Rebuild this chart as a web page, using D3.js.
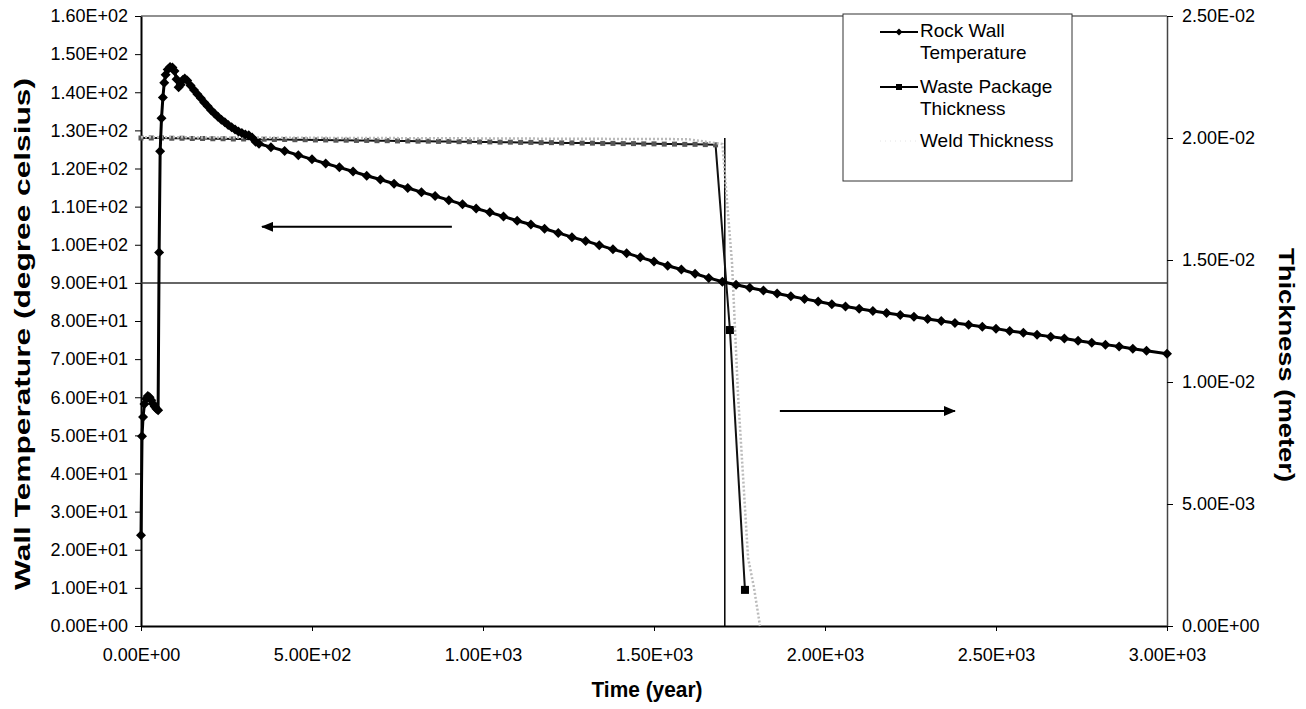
<!DOCTYPE html>
<html>
<head>
<meta charset="utf-8">
<script src="https://cdn.jsdelivr.net/npm/d3@7"></script>
<style>
    body { margin: 0; background: #fff; }
    svg { display: block; font-family: "Liberation Sans", Arial, sans-serif; }
    .tick text { font-size: 18px; fill: #000; }
    .axis-title { font-weight: bold; font-size: 22px; fill: #000; }
    .legend-text { font-size: 19px; fill: #000; }
</style>
</head>
<body>
<svg id="chart" width="1306" height="709"></svg>
<script>
// Rock Wall Temperature (degree celsius) vs time (year)
const wallYears = [0, 3, 6, 10, 15, 20, 25, 30, 35, 40, 45, 50, 53, 56, 60, 64, 68, 72, 78, 85, 92, 98,
    104, 110, 116, 122, 128, 135, 145, 155, 165, 175, 185, 195, 205, 215, 225, 235, 245, 255, 265,
    275, 285, 295, 305, 315, 325, 335, 345,
    380, 420, 460, 500, 540, 580, 620, 660, 700, 740, 780, 820, 860, 900, 940, 980, 1020, 1060,
    1100, 1140, 1180, 1220, 1260, 1300, 1340, 1380, 1420, 1460, 1500, 1540, 1580, 1620, 1660, 1700,
    1740, 1780, 1820, 1860, 1900, 1940, 1980, 2020, 2060, 2100, 2140, 2180, 2220, 2260, 2300, 2340,
    2380, 2420, 2460, 2500, 2540, 2580, 2620, 2660, 2700, 2740, 2780, 2820, 2860, 2900, 2940, 3000];
const wallTemp = [23.8, 49.8, 54.8, 58.2, 59.6, 60.3, 60.0, 59.2, 58.3, 57.6, 57.0, 56.6, 98.0, 124.5,
    133.2, 138.6, 142.5, 144.6, 146.0, 146.6, 146.5, 145.6,
    143.4, 141.3, 142.0, 143.2, 143.6, 143.1, 141.8, 140.6, 139.5, 138.4, 137.3, 136.3, 135.3, 134.4,
    133.6, 132.8, 132.1, 131.4, 130.8, 130.2, 129.7, 129.3, 128.9, 128.7, 128.1, 127.0, 126.5,
    125.6, 124.6, 123.5, 122.4, 121.3, 120.3, 119.2, 118.1, 117.1, 116.0, 114.9, 113.8, 112.8, 111.7,
    110.6, 109.5, 108.5, 107.4, 106.3, 105.3, 104.2, 103.1, 102.0, 101.0, 99.9, 98.8, 97.8, 96.7,
    95.6, 94.5, 93.5, 92.4, 91.3, 90.3,
    89.5, 88.7, 88.0, 87.2, 86.5, 85.8, 85.1, 84.4, 83.8, 83.2, 82.6, 82.1, 81.6, 81.1, 80.5, 80.0,
    79.5, 79.0, 78.5, 78.0, 77.4, 76.9, 76.4, 75.9, 75.4, 74.8, 74.3, 73.8, 73.3, 72.7, 72.2, 71.4];

// Waste Package Thickness (meter)
const packageYears = [0, 30, 60, 90, 120, 150, 180, 210, 240, 270, 300, 330, 360, 390, 420, 450, 480,
    510, 540, 570, 600, 630, 660, 690, 720, 750, 780, 810, 840, 870, 900, 930, 960, 990, 1020, 1050,
    1080, 1110, 1140, 1170, 1200, 1230, 1260, 1290, 1320, 1350, 1380, 1410, 1440, 1470, 1500, 1530,
    1560, 1590, 1620, 1650, 1680, 1722, 1766];
const packageThickness = [0.02000, 0.02000, 0.02000, 0.01999, 0.01999, 0.01998, 0.01998, 0.01997,
    0.01997, 0.01996, 0.01996, 0.01995, 0.01995, 0.01994, 0.01994, 0.01993, 0.01993, 0.01992, 0.01992,
    0.01991, 0.01991, 0.01990, 0.01990, 0.01989, 0.01989, 0.01988, 0.01988, 0.01987, 0.01987, 0.01986,
    0.01986, 0.01985, 0.01985, 0.01984, 0.01984, 0.01983, 0.01983, 0.01982, 0.01982, 0.01981, 0.01981,
    0.01980, 0.01980, 0.01979, 0.01979, 0.01978, 0.01978, 0.01977, 0.01977, 0.01976, 0.01976, 0.01975,
    0.01975, 0.01974, 0.01974, 0.01973, 0.01972, 0.01213, 0.00148];

// Weld Thickness (meter)
const weldYears = [0, 100, 200, 300, 400, 500, 600, 700, 800, 900, 1000, 1100, 1200, 1300, 1400,
    1500, 1600, 1700, 1728, 1746, 1775, 1792, 1810];
const weldThickness = [0.02003, 0.02003, 0.02002, 0.02002, 0.02001, 0.02001, 0.02000, 0.02000,
    0.01999, 0.01999, 0.01998, 0.01998, 0.01997, 0.01997, 0.01996, 0.01996, 0.01995, 0.01975,
    0.01490, 0.00940, 0.00280, 0.00160, 0.00000];

const yearTicks = [0, 500, 1000, 1500, 2000, 2500, 3000];
const tempTicks = [0, 10, 20, 30, 40, 50, 60, 70, 80, 90, 100, 110, 120, 130, 140, 150, 160];
const thicknessTicks = [0, 0.005, 0.01, 0.015, 0.02, 0.025];

// reference lines and arrows (data units)
const refTemp = 90;
const refYear = 1707;
const refThickness = 0.02;
const leftArrow = { from: 909, to: 354, temp: 104.7 };
const rightArrow = { from: 1868, to: 2380, thickness: 0.00881 };

const legendLabels = [['Rock Wall', 'Temperature'], ['Waste Package', 'Thickness'], ['Weld Thickness']];

const svg = d3.select('#chart');
const M = { left: 141, right: 1167, top: 16, bottom: 626 };

const x = d3.scaleLinear().domain([0, 3000]).range([M.left, M.right]);
const yT = d3.scaleLinear().domain([0, 160]).range([M.bottom, M.top]);
const yK = d3.scaleLinear().domain([0, 0.025]).range([M.bottom, M.top]);

function sci(v) {
    const [m, e] = v.toExponential(2).split('e');
    const n = Math.abs(+e);
    return m + 'E' + (+e < 0 ? '-' : '+') + (n < 10 ? '0' : '') + n;
}

// top border of plot area
svg.append('line')
    .attr('x1', M.left).attr('x2', M.right)
    .attr('y1', M.top).attr('y2', M.top)
    .attr('stroke', '#222').attr('stroke-width', 1.2);

// axes
const xAxis = svg.append('g')
    .attr('transform', `translate(0, ${M.bottom})`)
    .call(d3.axisBottom(x).tickValues(yearTicks).tickFormat(sci).tickSize(5).tickPadding(17).tickSizeOuter(0));
const leftAxis = svg.append('g')
    .attr('transform', `translate(${M.left}, 0)`)
    .call(d3.axisLeft(yT).tickValues(tempTicks).tickFormat(sci).tickSize(6).tickPadding(7).tickSizeOuter(0));
const rightAxis = svg.append('g')
    .attr('transform', `translate(${M.right}, 0)`)
    .call(d3.axisRight(yK).tickValues(thicknessTicks).tickFormat(sci).tickSize(6).tickPadding(9).tickSizeOuter(0));

svg.selectAll('.domain').attr('stroke', '#000').attr('stroke-width', 2);
rightAxis.select('.domain').attr('stroke', '#444').attr('stroke-width', 1.5);
svg.selectAll('.tick line').attr('stroke', '#000');
svg.selectAll('.tick text').attr('font-family', '"Liberation Sans", Arial, sans-serif');

// axis titles
svg.append('text')
    .attr('class', 'axis-title')
    .attr('text-anchor', 'middle')
    .attr('transform', `translate(30, ${(M.top + M.bottom) / 2 + 13}) rotate(-90)`)
    .attr('textLength', 512).attr('lengthAdjust', 'spacingAndGlyphs')
    .text('Wall Temperature (degree celsius)');
svg.append('text')
    .attr('class', 'axis-title')
    .attr('text-anchor', 'middle')
    .attr('transform', `translate(1279, 365) rotate(90)`)
    .attr('textLength', 234).attr('lengthAdjust', 'spacingAndGlyphs')
    .text('Thickness (meter)');
svg.append('text')
    .attr('class', 'axis-title')
    .attr('text-anchor', 'middle')
    .attr('x', 647).attr('y', 697)
    .attr('textLength', 111).attr('lengthAdjust', 'spacingAndGlyphs')
    .text('Time (year)');

// reference lines
svg.append('line')
    .attr('x1', x(0)).attr('x2', x(3000))
    .attr('y1', yT(refTemp)).attr('y2', yT(refTemp))
    .attr('stroke', '#333').attr('stroke-width', 1.5);
svg.append('line')
    .attr('x1', x(refYear)).attr('x2', x(refYear))
    .attr('y1', yK(0)).attr('y2', yK(refThickness))
    .attr('stroke', '#000').attr('stroke-width', 1.5);

const zip = (a, b) => a.map((d, i) => [d, b[i]]);
const wallData = zip(wallYears, wallTemp);
const packageData = zip(packageYears, packageThickness);
const weldData = zip(weldYears, weldThickness);
const isDrop = i => i >= packageData.length - 2;

// waste package thickness
svg.append('path')
    .datum(packageData)
    .attr('fill', 'none').attr('stroke', '#111').attr('stroke-width', 2)
    .attr('d', d3.line().x(d => x(d[0])).y(d => yK(d[1])));
svg.selectAll('.pkg')
    .data(packageData)
    .join('rect')
    .attr('class', 'pkg')
    .attr('x', (d, i) => x(d[0]) - (isDrop(i) ? 4 : 2.5))
    .attr('y', (d, i) => yK(d[1]) - (isDrop(i) ? 4 : 2.5))
    .attr('width', (d, i) => isDrop(i) ? 8 : 5)
    .attr('height', (d, i) => isDrop(i) ? 8 : 5)
    .attr('fill', (d, i) => isDrop(i) ? '#000' : '#555');

// weld thickness
svg.append('path')
    .datum(weldData)
    .attr('fill', 'none').attr('stroke', '#bbb').attr('stroke-width', 2.5)
    .attr('stroke-dasharray', '2,2')
    .attr('d', d3.line().x(d => x(d[0])).y(d => yK(d[1])));

// rock wall temperature
svg.append('path')
    .datum(wallData)
    .attr('fill', 'none').attr('stroke', '#000').attr('stroke-width', 3)
    .attr('stroke-linejoin', 'round')
    .attr('d', d3.line().x(d => x(d[0])).y(d => yT(d[1])));
const diamond = r => `M0,${-r}L${r},0L0,${r}L${-r},0Z`;
svg.selectAll('.wall')
    .data(wallData)
    .join('path')
    .attr('class', 'wall')
    .attr('transform', d => `translate(${x(d[0])}, ${yT(d[1])})`)
    .attr('d', diamond(5))
    .attr('fill', '#000');

// arrows
svg.append('defs').append('marker')
    .attr('id', 'arrow')
    .attr('viewBox', '0 0 12 10')
    .attr('refX', 11).attr('refY', 5)
    .attr('markerWidth', 12).attr('markerHeight', 10)
    .attr('markerUnits', 'userSpaceOnUse')
    .attr('orient', 'auto')
    .append('path')
    .attr('d', 'M0,0L12,5L0,10Z')
    .attr('fill', '#000');
svg.append('line')
    .attr('x1', x(leftArrow.from)).attr('x2', x(leftArrow.to))
    .attr('y1', yT(leftArrow.temp)).attr('y2', yT(leftArrow.temp))
    .attr('stroke', '#000').attr('stroke-width', 2)
    .attr('marker-end', 'url(#arrow)');
svg.append('line')
    .attr('x1', x(rightArrow.from)).attr('x2', x(rightArrow.to))
    .attr('y1', yK(rightArrow.thickness)).attr('y2', yK(rightArrow.thickness))
    .attr('stroke', '#000').attr('stroke-width', 2)
    .attr('marker-end', 'url(#arrow)');

// legend
const legend = svg.append('g').attr('transform', 'translate(843, 14)');
legend.append('rect')
    .attr('width', 229).attr('height', 167)
    .attr('fill', '#fff').attr('stroke', '#333').attr('stroke-width', 1);
const textRows = [[23, 45], [79, 101], [133]];
legendLabels.forEach((lines, i) => {
    lines.forEach((t, j) => {
        legend.append('text').attr('class', 'legend-text')
            .attr('x', 77).attr('y', textRows[i][j])
            .text(t);
    });
});
legend.append('line').attr('x1', 37).attr('x2', 75).attr('y1', 18).attr('y2', 18)
    .attr('stroke', '#000').attr('stroke-width', 2);
legend.append('path').attr('transform', 'translate(56, 18)').attr('d', diamond(3.5)).attr('fill', '#000');
legend.append('line').attr('x1', 37).attr('x2', 75).attr('y1', 73).attr('y2', 73)
    .attr('stroke', '#000').attr('stroke-width', 2);
legend.append('rect').attr('x', 53).attr('y', 70).attr('width', 6).attr('height', 6).attr('fill', '#000');
legend.append('line').attr('x1', 37).attr('x2', 75).attr('y1', 127).attr('y2', 127)
    .attr('stroke', '#e4e4e4').attr('stroke-width', 1).attr('stroke-dasharray', '1,4');
</script>
</body>
</html>
